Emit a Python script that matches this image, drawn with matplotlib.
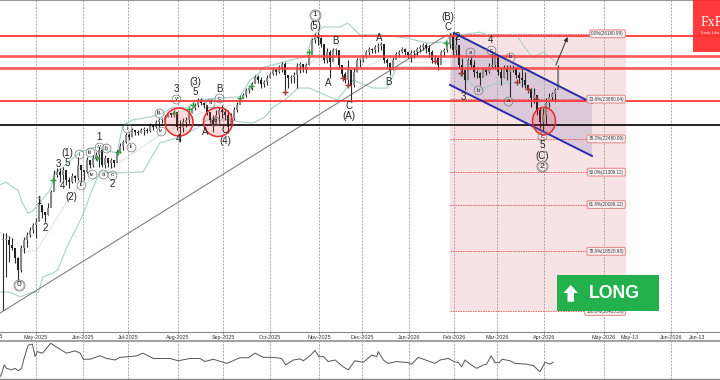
import matplotlib
matplotlib.use('Agg')
import matplotlib.pyplot as plt
from matplotlib.patches import Ellipse, Rectangle, Polygon

plt.rcParams['font.family'] = ['Liberation Sans', 'DejaVu Sans']

highs = [19170, 19170, 19060, 18990, 18640, 18320, 18750, 19030, 19200, 19380,
         19520, 19700, 20400, 20050, 19870, 20220, 20680, 21380, 21460, 21460,
         21490, 21280, 21140, 21280, 21210, 21840, 21490, 21380, 21840, 21740,
         21910, 22020, 22200, 21980, 21910, 21740, 21810, 21740, 22090, 22340,
         22440, 22690, 22690, 22860, 22790, 22790, 22860, 22900, 22860, 23040,
         22970, 23150, 23220, 23220, 23320, 23430, 23390, 23500, 23320, 23150,
         23220, 23250, 23500, 23600, 23750, 23920, 23920, 23780, 23670, 23320,
         23320, 23500, 23600, 23670, 23570, 23500, 23390, 23600, 23780, 23960,
         24100, 24270, 24310, 24480, 24730, 24730, 24660, 24550, 24730, 24840,
         24980, 24980, 25080, 25190, 25190, 24730, 24730, 24840, 25150, 25190,
         25080, 25150, 25500, 26030, 26210, 26240, 26070, 25720, 25680, 25610,
         25680, 25680, 25540, 25010, 24840, 25260, 24910, 24980, 25330, 25330,
         25430, 25610, 25710, 25680, 25790, 25860, 25890, 25360, 25330, 25190,
         25360, 25540, 25610, 25710, 25680, 25540, 25610, 25610, 25710, 25790,
         25860, 25860, 25790, 25610, 25430, 25360, 25610, 25680, 25890, 26210,
         26240, 26140, 25360, 25330, 24840, 25330, 25360, 25260, 24910, 24840,
         24980, 24980, 25150, 25500, 25540, 25080, 25010, 25080, 25080, 25080,
         25080, 24980, 24840, 24980, 24840, 24310, 24270, 24270, 23920, 23600,
         23570, 23920, 24100, 24130, 24270, 25080]
lows = [16460, 17620, 18150, 18570, 18110, 17510, 17800, 18460, 18680, 19030,
        19170, 18990, 19630, 19700, 19560, 19800, 20220, 20680, 21140, 20960,
        21030, 20860, 20750, 20930, 20960, 21030, 20960, 21030, 21280, 21460,
        21490, 21740, 21490, 21490, 21460, 21490, 21460, 21490, 21840, 21980,
        22090, 22340, 22440, 22550, 22620, 22620, 22690, 22620, 22690, 22720,
        22790, 22860, 22900, 23040, 23080, 23250, 23250, 23250, 22790, 22370,
        22720, 22900, 23040, 23390, 23500, 23600, 23670, 23570, 23320, 23040,
        22720, 23040, 22970, 23220, 23150, 22690, 22900, 23150, 23430, 23780,
        23920, 23960, 24100, 24200, 24450, 24450, 24270, 24310, 24380, 24620,
        24730, 24730, 24800, 24840, 24100, 24270, 24450, 24450, 24270, 24800,
        24840, 24800, 25080, 25540, 25860, 25790, 25720, 25150, 25150, 24620,
        25260, 25430, 24980, 24660, 24450, 24310, 23850, 24310, 24840, 25010,
        25190, 25330, 25430, 25500, 25500, 25540, 25610, 25150, 25010, 24730,
        24910, 25330, 25360, 25500, 25430, 25330, 25190, 25330, 25430, 25540,
        25610, 25500, 25360, 25150, 25150, 24910, 25330, 25360, 25540, 25680,
        25430, 25430, 24980, 24730, 24200, 24840, 24980, 24660, 24620, 24380,
        24660, 24730, 24800, 24980, 24980, 24730, 24380, 24620, 24550, 23960,
        24840, 24620, 24450, 24310, 24270, 24100, 23600, 23740, 23320, 22860,
        22720, 22970, 23600, 23850, 23780, 24310]
closes = [18920, 18920, 18750, 18640, 18290, 17870, 18640, 18920, 19100, 19270,
          19450, 19560, 20150, 19910, 19800, 20050, 20610, 21210, 21320, 21210,
          21380, 21030, 20960, 21170, 21100, 21560, 21380, 21320, 21740, 21560,
          21810, 21910, 22090, 21560, 21810, 21630, 21740, 21630, 22020, 22230,
          22370, 22620, 22550, 22790, 22720, 22690, 22790, 22790, 22760, 22970,
          22900, 23080, 23150, 23150, 23250, 23390, 23320, 23430, 22900, 22860,
          23080, 23150, 23390, 23570, 23670, 23850, 23750, 23670, 23430, 23150,
          22970, 23320, 23500, 23430, 23320, 22970, 23220, 23500, 23670, 23920,
          24030, 24200, 24270, 24410, 24660, 24550, 24410, 24480, 24620, 24770,
          24910, 24840, 25010, 25120, 24730, 24620, 24660, 24730, 25050, 25120,
          24980, 25080, 25430, 25960, 26100, 26030, 25820, 25260, 25540, 25190,
          25610, 25610, 25080, 24770, 24550, 24910, 24380, 24840, 25260, 25260,
          25360, 25540, 25640, 25610, 25710, 25750, 25820, 25260, 25150, 24910,
          25260, 25470, 25540, 25640, 25540, 25430, 25500, 25540, 25640, 25710,
          25790, 25680, 25540, 25260, 25330, 25080, 25540, 25610, 25820, 26100,
          25610, 25790, 25080, 24910, 24550, 25260, 25080, 24840, 24800, 24620,
          24910, 24840, 25050, 25080, 25430, 24840, 24620, 24980, 24840, 24910,
          24980, 24730, 24620, 24550, 24380, 24200, 23920, 24030, 23500, 23080,
          23320, 23750, 23960, 24060, 24200, 24980]

upper_x = [-1, 1, 3.7, 5, 6.3, 8.3, 10, 11.7, 13, 15.7, 17.3, 19.7, 25.7, 31, 34, 38, 40, 43.3,
           49, 53.3, 56.7, 61.3, 64.7, 72.3, 79, 82.3, 84.7, 86.7, 93.3, 99, 101.3, 103, 106.7,
           112.3, 115, 119, 125.7, 134.7, 141.3, 148, 149, 152.3, 159, 163.3, 171.3, 173.3,
           176.7, 180, 184.7]
upper_y = [20860, 20960, 20750, 20680, 20260, 19870, 19940, 20190, 20330, 20680, 21280, 21460,
           22020, 22200, 22090, 21980, 22970, 23150, 23250, 23390, 23600, 23570, 23850, 23920,
           23960, 24550, 24730, 24980, 25190, 25330, 25430, 26070, 26420, 26420, 26560, 26140,
           26140, 26030, 25860, 25890, 26210, 26140, 26240, 26070, 26140, 25790, 25330, 25540,
           25150]
lower_x = [-1, 2.3, 5.7, 10, 11.7, 13.3, 16.7, 18.3, 21.3, 26.3, 29.7, 32.3, 38, 46.7, 52.3, 59,
           64.7, 68, 75.7, 79, 83.3, 87.3, 90, 94, 98.3, 102.3, 105.7, 111.3, 116.7, 123.3, 128,
           131.3, 141.3, 149, 154.7, 158.3, 164.7, 171.3, 176.7, 178.3, 180.7, 184]
lower_y = [17090, 17090, 16920, 17090, 17060, 17620, 17760, 17870, 18680, 19730, 20680, 21320,
           21280, 21320, 22340, 22550, 22860, 23150, 23150, 23080, 23040, 23250, 23600, 23850,
           24270, 24270, 24100, 23850, 24550, 24270, 24270, 25010, 25010, 24980, 24550, 24200,
           24450, 24450, 24200, 23960, 23220, 23080]
mid_x = [-1, 3, 7.3, 11.3, 19, 24, 36.7, 51.3, 65.7, 79, 86.7, 93.3, 101.3, 106.7, 112.3, 119,
         125.7, 134.7, 144.7, 151.3, 159, 164.7, 173.3, 179, 184]
mid_y = [19200, 18990, 18500, 18570, 19870, 20680, 21490, 22550, 23390, 23740, 25010, 25150,
         25080, 25500, 24910, 24910, 25260, 25190, 25150, 25260, 25260, 25010, 24910, 24450, 24310]

osc_x = [-1, -0.4, 0.4, 1.2, 2.9, 4, 5.1, 6.2, 7, 8.4, 9.8, 10.7, 11.4, 13.2, 15.9, 18.4, 21.2,
         24, 25.7, 26.8, 29, 32.3, 34.6, 37.3, 39, 42.3, 44.6, 46.6, 50.1, 52.3, 55.7, 58.4, 62.3,
         65.7, 67.3, 70.1, 74.6, 79, 81.8, 84, 86.8, 90.1, 92.9, 94.2, 96.8, 99, 100.1, 102.3, 104,
         105.3, 106.8, 108.4, 110.7, 113.4, 115.1, 117.3, 120.1, 122.9, 124.6, 125.1, 126.8, 128.4,
         131.2, 135.1, 136.2, 138.4, 142.3, 144, 145.7, 148.4, 150.3, 151.8, 152.9, 154, 155.7,
         157.9, 160.1, 161.2, 162.7, 164, 165.4, 166.4, 169, 170.7, 174.6, 176.8, 179, 180.7,
         182.3, 183.4]
osc_y = [6, 15, 37, 28, 24, 28, 22, 28, 54, 89, 92, 59, 72, 68, 94, 81, 68, 74, 68, 52, 52, 61,
         54, 50, 57, 59, 61, 68, 54, 54, 54, 48, 54, 54, 46, 52, 41, 56, 56, 68, 57, 57, 54, 37,
         50, 53, 48, 61, 75, 59, 59, 46, 50, 32, 24, 48, 44, 63, 59, 72, 50, 41, 46, 43, 39, 57,
         46, 41, 50, 54, 46, 43, 32, 50, 39, 28, 37, 39, 61, 43, 43, 52, 48, 41, 39, 35, 19, 44,
         39, 44]

buy_x = [16.7, 31.3, 38.3, 57, 62, 63.3, 79, 82.7, 102, 147.7]
buy_y = [21030, 21810, 22020, 23390, 23530, 23670, 23920, 24340, 25540, 25860]
sell_x = [94, 113.3, 115, 144, 152.7, 171.3, 175, 177.7]
sell_y = [24130, 24620, 24380, 25220, 24800, 24480, 24240, 23880]

red_levels = [26120, 25400, 24980, 23830]
red_widths = [1.4, 1.9, 1.9, 1.4]
black_level = 22980
fib_prices = [26180.98, 23880.04, 22480.09, 21309.12, 20169.12, 18520.98, 16405.36]
fib_labels = ['0.0%(26180.98)', '23.6%(23880.04)', '38.2%(22480.09)', '50.0%(21309.12)',
              '61.8%(20169.12)', '78.6%(18520.98)', '100.0%(16405.36)']

tick_pos = [11, 26.67, 41.67, 58.33, 73.33, 89, 105.33, 119.67, 135.33, 150.33, 164.67, 180.33,
            200.33, 209, 222.67, 231.33]
tick_labels = ['May-2025', 'Jun-2025', 'Jul-2025', 'Aug-2025', 'Sep-2025', 'Oct-2025', 'Nov-2025',
               'Dec-2025', 'Jan-2026', 'Feb-2026', 'Mar-2026', 'Apr-2026', 'May-2026', 'May-13',
               'Jun-2026', 'Jun-13']
grid_pos = [t for t, l in zip(tick_pos, tick_labels) if '20' in l]

# wave counts: text, column, row on the picture
plain_waves = [('(1)', 67, 153), ('3', 58, 164), ('5', 67, 163), ('4', 62, 186), ('(2)', 71, 197),
               ('1', 39, 201), ('2', 45, 228), ('1', 99, 137), ('2', 112, 184), ('3', 176, 89),
               ('4', 178, 139), ('(3)', 195, 82), ('5', 195, 92), ('A', 205, 132), ('B', 219, 89),
               ('C', 225, 130), ('(4)', 225, 141), ('(5)', 315, 26), ('B', 335, 41), ('A', 328, 83),
               ('C', 349, 106), ('(A)', 349, 116), ('A', 379, 38), ('B', 388, 82), ('(B)', 448, 17),
               ('C', 448, 27), ('2', 457, 37), ('3', 463, 97), ('4', 491, 40), ('5', 542, 145),
               ('(C)', 542, 156)]
circled_waves = [('i', 79, 154), ('ii', 81, 185), ('iii', 90, 152), ('iv', 92, 174), ('v', 99, 147),
                 ('b', 106, 148), ('a', 103, 174), ('c', 112, 175), ('i', 127, 128), ('ii', 131, 147),
                 ('iii', 159, 113), ('iv', 161, 131), ('v', 176, 99), ('a', 210, 103), ('b', 215, 121),
                 ('c', 219, 98), ('a', 470, 52), ('b', 478, 90), ('c', 491, 50), ('a', 508, 101),
                 ('b', 510, 57), ('c', 542, 136)]
double_waves = [('0', 19, 285), ('1', 315, 15), ('2', 542, 166)]
red_circles = [(179, 122, 14), (218, 122, 14.5), (544, 121, 11.5)]

fig = plt.figure(figsize=(7.2, 3.8), dpi=100)
ax = fig.add_axes([0, 48 / 380, 1, 332 / 380])
osc = fig.add_axes([0, 1 / 380, 1, 38 / 380])
top = fig.add_axes([0, 0, 1, 1])
top.set_xlim(0, 720)
top.set_ylim(380, 0)
top.axis('off')

ax.set_xlim(-1, 239)
ax.set_ylim(15683, 27370)
ax.set_yticks([])
ax.set_xticks(tick_pos)
ax.set_xticklabels(tick_labels, fontsize=3.9, color='#333333')
ax.tick_params(axis='x', length=1.5, width=0.5, pad=1, color='#666666')
for s in ['left', 'right']:
    ax.spines[s].set_visible(False)
ax.spines['top'].set_color('#999999')
ax.spines['bottom'].set_color('#888888')
ax.spines['bottom'].set_linewidth(0.8)
for g in grid_pos:
    ax.axvline(g, color='#a0a0a0', lw=0.6, ls=(0, (2.5, 1.5)), zorder=1)
    osc.axvline(g, color='#a0a0a0', lw=0.6, ls=(0, (2.5, 1.5)), zorder=1)

# fibonacci block and channel
ax.add_patch(Rectangle((149, fib_prices[-1]), 58.67, fib_prices[0] - fib_prices[-1],
                       fc='#f7e3e3', ec='none', zorder=0))
ax.fill([150.33, 196.33, 196.33, 149], [26210, 23750, 21880, 24380], color='#9c8cc0', alpha=0.3,
        lw=0, zorder=1)
for p, l in zip(fib_prices, fib_labels):
    ax.plot([149, 196], [p, p], color='#e05a5a', lw=0.6, ls=(0, (2, 1)), zorder=1.5)
    ax.text(207, p, l, fontsize=3.3, ha='right', va='center', color='#333333', zorder=6,
            bbox=dict(boxstyle='round,pad=0.3', fc='#fdf3f3', ec='#e58f8f', lw=0.8))

ax.plot(upper_x, upper_y, color='#a9cfcc', lw=0.8, zorder=2)
ax.plot(lower_x, lower_y, color='#a9cfcc', lw=0.8, zorder=2)
ax.plot(mid_x, mid_y, color='#b5cfc8', lw=0.6, ls=(0, (1.5, 1)), zorder=2)
ax.plot([-1, 148], [16350, 26140], color='#808080', lw=0.8, zorder=2)

# candles: wick plus a body from the previous close
prev = closes[0]
for i in range(len(highs)):
    ax.plot([i, i], [lows[i], highs[i]], color='#2a2a2a', lw=0.8, zorder=3, solid_capstyle='butt')
    down = closes[i] < prev
    ax.add_patch(Rectangle((i - 0.36, min(prev, closes[i])), 0.72, max(abs(closes[i] - prev), 40),
                           fc='#222222' if down else '#8a8a8a', ec='none', zorder=3.2))
    prev = closes[i]

ax.plot(buy_x, buy_y, ls='none', marker='+', ms=4, mew=1, color='#2e9e3e', zorder=4)
ax.plot(sell_x, sell_y, ls='none', marker='+', ms=4, mew=1, color='#b03030', zorder=4)

for p, w in zip(red_levels, red_widths):
    ax.axhline(p, color='#ff3b3b', lw=w, zorder=4, alpha=0.95 if w < 1.5 else 0.85)
ax.axhline(black_level, color='black', lw=1.2, zorder=4)

ax.plot([150.33, 196.33], [26210, 23750], color='#2a2ca6', lw=1.4, zorder=4.5)
ax.plot([149, 196.33], [24380, 21880], color='#2a2ca6', lw=1.4, zorder=4.5)
ax.annotate('', xy=(188.2, 26070), xytext=(184.3, 25080), zorder=5,
            arrowprops=dict(arrowstyle='-|>,head_width=0.12,head_length=0.25', color='#333333',
                            lw=0.7, shrinkA=0, shrinkB=0))

# indicator panel
osc.set_xlim(-1, 239)
osc.set_ylim(0, 100)
osc.set_xticks([])
osc.set_yticks([])
for s in ['left', 'right']:
    osc.spines[s].set_visible(False)
osc.spines['top'].set_color('#a0a0a0')
osc.spines['top'].set_linewidth(1.4)
osc.spines['bottom'].set_color('#888888')
osc.spines['bottom'].set_linewidth(1.0)
osc.plot(osc_x, osc_y, color='#555555', lw=0.7, zorder=3)

# annotation layer
top.text(-8, 336.5, 'Apr-2025', fontsize=3.9, color='#333333', ha='center', va='center')
for x, y, r in red_circles:
    ry = 13.7 if r < 12 else r
    top.add_patch(Ellipse((x, y), 2 * r, 2 * ry, fc=(1, 0.2, 0.2, 0.18), ec='#e8292d', lw=1.1))
for t, x, y in plain_waves:
    top.text(x, y, t, fontsize=7, color='#222222', ha='center', va='center')
for t, x, y in circled_waves:
    top.plot(x, y, marker='o', ms=6.4, mfc='none', mec='#777777', mew=0.5)
    top.text(x, y, t, fontsize=4.3, color='#222222', ha='center', va='center')
for t, x, y in double_waves:
    top.plot(x, y, marker='o', ms=8, mfc='none', mec='#777777', mew=0.5)
    top.plot(x, y, marker='o', ms=6.6, mfc='none', mec='#777777', mew=0.4)
    top.text(x, y, t, fontsize=6, color='#222222', ha='center', va='center')

top.add_patch(Rectangle((557, 275), 102, 36, fc='#22b14c', ec='none', zorder=7))
top.add_patch(Polygon([(570.7, 285), (578, 293), (574, 293), (574, 301.7), (567.5, 301.7),
                       (567.5, 293), (563.5, 293)], fc='white', ec='none', zorder=8))
top.text(589, 293.5, 'LONG', fontsize=12.8, fontweight='bold', color='white', ha='left', va='center',
         zorder=8)

top.add_patch(Rectangle((693, 0), 27, 52, fc='#ff2f2f', ec='none', alpha=0.95, zorder=7))
top.text(700.5, 23, 'FxPro', fontsize=10, family='Liberation Serif', color='white', ha='left',
         va='center', zorder=8)
top.text(700.5, 32.5, 'Trade Like a Pro', fontsize=3, color='#ffdede', ha='left', va='center', zorder=8)

fig.savefig('out.png', dpi=100)
